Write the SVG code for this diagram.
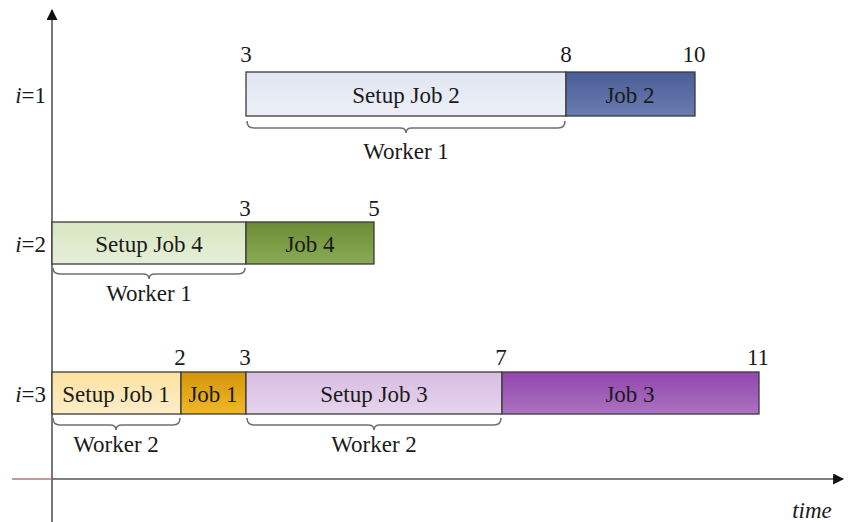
<svg xmlns="http://www.w3.org/2000/svg" width="848" height="522" viewBox="0 0 848 522" font-family="'Liberation Serif', 'Times New Roman', 'DejaVu Serif', serif">
  <defs>
    <marker id="arrow" viewBox="0 0 10 10" refX="9" refY="5" markerWidth="11" markerHeight="11" markerUnits="userSpaceOnUse" orient="auto">
      <path d="M0,0 L10,5 L0,10 z" fill="#111"/>
    </marker>
    <linearGradient id="gSetup2" x1="0" y1="0" x2="0" y2="1"><stop offset="0" stop-color="#e2e6f2"/><stop offset="1" stop-color="#eceff7"/></linearGradient>
    <linearGradient id="gJob2" x1="0" y1="0" x2="0" y2="1"><stop offset="0" stop-color="#4a5d96"/><stop offset="1" stop-color="#6a7cb0"/></linearGradient>
    <linearGradient id="gSetup4" x1="0" y1="0" x2="0" y2="1"><stop offset="0" stop-color="#d8e6c2"/><stop offset="1" stop-color="#e6efd8"/></linearGradient>
    <linearGradient id="gJob4" x1="0" y1="0" x2="0" y2="1"><stop offset="0" stop-color="#6c8c34"/><stop offset="1" stop-color="#8aab56"/></linearGradient>
    <linearGradient id="gSetup1" x1="0" y1="0" x2="0" y2="1"><stop offset="0" stop-color="#fce2a2"/><stop offset="1" stop-color="#fdedc6"/></linearGradient>
    <linearGradient id="gJob1" x1="0" y1="0" x2="0" y2="1"><stop offset="0" stop-color="#d4960a"/><stop offset="1" stop-color="#f0b828"/></linearGradient>
    <linearGradient id="gSetup3" x1="0" y1="0" x2="0" y2="1"><stop offset="0" stop-color="#d8bde2"/><stop offset="1" stop-color="#e6d4ec"/></linearGradient>
    <linearGradient id="gJob3" x1="0" y1="0" x2="0" y2="1"><stop offset="0" stop-color="#9146ab"/><stop offset="1" stop-color="#ac72c2"/></linearGradient>
  </defs>
  <style>
    text { font-family: "Liberation Serif", "Times New Roman", "DejaVu Serif", serif; fill: #1a1a1a; font-size: 23px; }
    .lbl { text-anchor: middle; }
    .num { text-anchor: middle; }
    .row { text-anchor: end; }
    .bar { stroke: #3a3a3a; stroke-width: 1.3; }
    .brace { fill: none; stroke: #707070; stroke-width: 1.6; }
    .axis { stroke: #555; stroke-width: 1.6; fill: none; }
  </style>

  <rect width="848" height="522" fill="#fff"/>

  <!-- axes -->
  <g id="axes">
    <line class="axis" x1="52" y1="522" x2="52" y2="10" marker-end="url(#arrow)"/>
    <line x1="12" y1="479" x2="52" y2="479" stroke="#b07a78" stroke-width="1.6"/>
    <line class="axis" x1="52" y1="479" x2="843" y2="479" marker-end="url(#arrow)"/>
    <text x="812" y="518" font-style="italic" text-anchor="middle">time</text>
  </g>

  <!-- row labels -->
  <g id="row-labels">
    <text class="row" x="46" y="103"><tspan font-style="italic">i</tspan>=1</text>
    <text class="row" x="46" y="252"><tspan font-style="italic">i</tspan>=2</text>
    <text class="row" x="46" y="402"><tspan font-style="italic">i</tspan>=3</text>
  </g>

  <!-- row i=1 -->
  <g id="setup-job2">
    <rect class="bar" x="246" y="72" width="320" height="44" fill="url(#gSetup2)"/>
    <text class="lbl" x="406" y="103">Setup Job 2</text>
  </g>
  <g id="job2">
    <rect class="bar" x="566" y="72" width="129" height="44" fill="url(#gJob2)"/>
    <text class="lbl" x="630" y="103">Job 2</text>
  </g>
  <g id="ticks-row1">
    <text class="num" x="246" y="62">3</text>
    <text class="num" x="566" y="62">8</text>
    <text class="num" x="694" y="62">10</text>
  </g>

  <!-- row i=2 -->
  <g id="setup-job4">
    <rect class="bar" x="52" y="222" width="194" height="42" fill="url(#gSetup4)"/>
    <text class="lbl" x="149" y="252">Setup Job 4</text>
  </g>
  <g id="job4">
    <rect class="bar" x="246" y="222" width="128" height="42" fill="url(#gJob4)"/>
    <text class="lbl" x="310" y="252">Job 4</text>
  </g>
  <g id="ticks-row2">
    <text class="num" x="245" y="216">3</text>
    <text class="num" x="374" y="216">5</text>
  </g>

  <!-- row i=3 -->
  <g id="setup-job1">
    <rect class="bar" x="52" y="372" width="129" height="42" fill="url(#gSetup1)"/>
    <text class="lbl" x="116" y="402">Setup Job 1</text>
  </g>
  <g id="job1">
    <rect class="bar" x="181" y="372" width="65" height="42" fill="url(#gJob1)"/>
    <text class="lbl" x="213" y="402">Job 1</text>
  </g>
  <g id="setup-job3">
    <rect class="bar" x="246" y="372" width="256" height="42" fill="url(#gSetup3)"/>
    <text class="lbl" x="374" y="402">Setup Job 3</text>
  </g>
  <g id="job3">
    <rect class="bar" x="502" y="372" width="257" height="42" fill="url(#gJob3)"/>
    <text class="lbl" x="630" y="402">Job 3</text>
  </g>
  <g id="ticks-row3">
    <text class="num" x="180" y="365">2</text>
    <text class="num" x="245" y="365">3</text>
    <text class="num" x="501" y="365">7</text>
    <text class="num" x="758" y="365">11</text>
  </g>

  <!-- worker braces -->
  <g id="connectors">
    <path class="brace" d="M247,121 Q247,128 254,128 L400,128 Q406,128 406,133 Q406,128 412,128 L558,128 Q565,128 565,121"/>
    <path class="brace" d="M53,268 Q53,274 60,274 L143,274 Q149,274 149,279 Q149,274 155,274 L238,274 Q245,274 245,268"/>
    <path class="brace" d="M53,418 Q53,425 60,425 L110,425 Q116,425 116,430 Q116,425 122,425 L173,425 Q180,425 180,418"/>
    <path class="brace" d="M247,418 Q247,425 254,425 L368,425 Q374,425 374,430 Q374,425 380,425 L494,425 Q501,425 501,418"/>
  </g>

  <g id="worker-labels">
    <text class="lbl" x="406" y="159">Worker 1</text>
    <text class="lbl" x="149" y="301">Worker 1</text>
    <text class="lbl" x="116" y="452">Worker 2</text>
    <text class="lbl" x="374" y="452">Worker 2</text>
  </g>
</svg>
